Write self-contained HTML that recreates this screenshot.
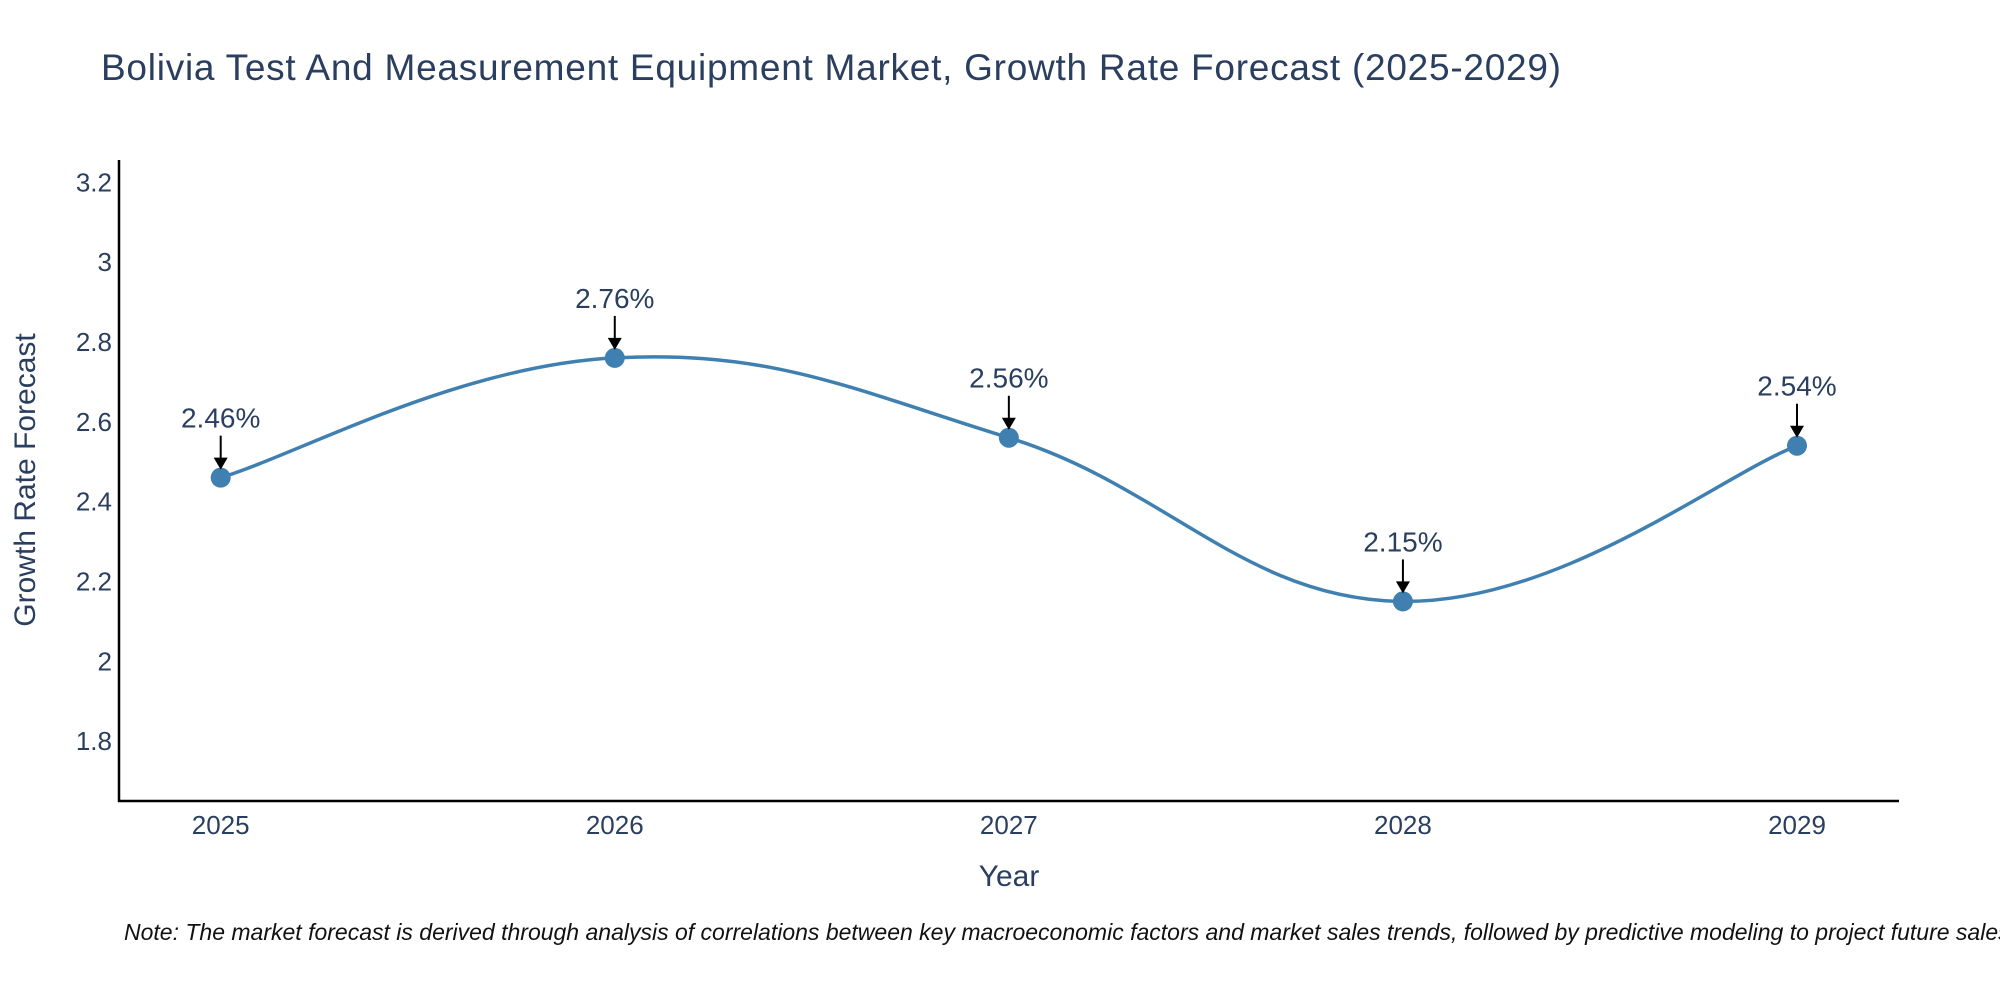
<!DOCTYPE html>
<html><head><meta charset="utf-8"><style>
html,body{margin:0;padding:0;background:#fff;}
svg{display:block;font-family:"Liberation Sans",sans-serif;}
</style></head><body>
<svg id="chart" width="2000" height="1000" viewBox="0 0 2000 1000">
<text x="101" y="80" font-size="37" fill="#2a3f5f" textLength="1460">Bolivia Test And Measurement Equipment Market, Growth Rate Forecast (2025-2029)</text>
<g id="yticks"></g>
<g id="xticks"></g>
<line x1="119" y1="160" x2="119" y2="802" stroke="#000" stroke-width="2.5"/>
<line x1="118" y1="801" x2="1899" y2="801" stroke="#000" stroke-width="2.5"/>
<text x="35" y="480" font-size="30" fill="#2a3f5f" text-anchor="middle" transform="rotate(-90 35 480)">Growth Rate Forecast</text>
<text x="1009" y="886" font-size="30" fill="#2a3f5f" text-anchor="middle">Year</text>
<g id="series"></g>
<text x="124" y="940" font-size="23" font-style="italic" fill="#111">Note: The market forecast is derived through analysis of correlations between key macroeconomic factors and market sales trends, followed by predictive modeling to project future sales.</text>
</svg>
<script>
const years = ["2025","2026","2027","2028","2029"];
const rates = [2.46, 2.76, 2.56, 2.15, 2.54];
const yTickValues = [1.8, 2, 2.2, 2.4, 2.6, 2.8, 3, 3.2];
const yTickLabels = ["1.8","2","2.2","2.4","2.6","2.8","3","3.2"];
const NS="http://www.w3.org/2000/svg";
const yMin=1.65, yMax=3.254, pTop=160.7, pBot=801;
const y=v=>pBot-(v-yMin)/(yMax-yMin)*(pBot-pTop);
const x0=220.7, x1=1797;
const x=i=>x0+i*(x1-x0)/(years.length-1);
function mk(tag,attrs,parent){const e=document.createElementNS(NS,tag);for(const k in attrs)e.setAttribute(k,attrs[k]);parent.appendChild(e);return e;}
const yt=document.getElementById('yticks');
yTickValues.forEach((v,i)=>{const t=mk('text',{x:112,y:y(v)+9,'font-size':26,fill:'#2a3f5f','text-anchor':'end'},yt);


t.textContent=yTickLabels[i];});
const xt=document.getElementById('xticks');
years.forEach((yr,i)=>{const t=mk('text',{x:x(i),y:834,'font-size':26,fill:'#2a3f5f','text-anchor':'middle'},xt);


t.textContent=yr;});
const g=document.getElementById('series');
const pts=rates.map((v,i)=>[x(i),y(v)]);
let d=`M${pts[0][0]},${pts[0][1]}`;const s=0.2;
for(let i=0;i<pts.length-1;i++){const p0=pts[i-1]||pts[i],p1=pts[i],p2=pts[i+1],p3=pts[i+2]||p2;
const c1=[p1[0]+(p2[0]-p0[0])*s,p1[1]+(p2[1]-p0[1])*s],c2=[p2[0]-(p3[0]-p1[0])*s,p2[1]-(p3[1]-p1[1])*s];
d+=` C${c1[0]},${c1[1]} ${c2[0]},${c2[1]} ${p2[0]},${p2[1]}`;}
const line=mk('path',{d:d,fill:'none',stroke:'#4080b0','stroke-width':3.5},g);


pts.forEach((p,i)=>{
const c=mk('circle',{cx:p[0],cy:p[1],r:10,fill:'#4080b0'},g);


const a=mk('line',{x1:p[0],y1:p[1]-42,x2:p[0],y2:p[1]-18,stroke:'#000','stroke-width':2},g);


const h=mk('polygon',{points:`${p[0]-7},${p[1]-20} ${p[0]+7},${p[1]-20} ${p[0]},${p[1]-8}`,fill:'#000'},g);


const t=mk('text',{x:p[0],y:p[1]-50,'font-size':28,fill:'#2a3f5f','text-anchor':'middle'},g);


t.textContent=rates[i].toFixed(2)+'%';});
</script>
</body></html>
